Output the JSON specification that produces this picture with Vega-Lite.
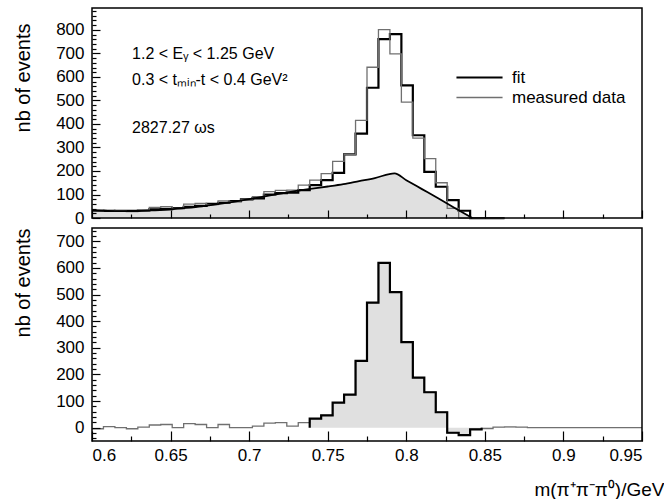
{
  "$schema": "https://vega.github.io/schema/vega-lite/v6.json",
  "padding": {"left": 13, "top": 7, "right": 0, "bottom": 0},
  "background": "white",
  "width": 550,
  "height": 433,
  "datasets": {
    "bins": [
      {"x": 0.6, "fit": 31, "measured data": 30, "diff": -4},
      {"x": 0.60729, "fit": 30, "measured data": 34, "diff": 4},
      {"x": 0.61458, "fit": 31, "measured data": 30, "diff": 0},
      {"x": 0.62188, "fit": 31, "measured data": 27, "diff": -4},
      {"x": 0.62917, "fit": 32, "measured data": 33, "diff": 2},
      {"x": 0.63646, "fit": 37, "measured data": 45, "diff": 10},
      {"x": 0.64375, "fit": 38, "measured data": 48, "diff": 12},
      {"x": 0.65104, "fit": 42, "measured data": 41, "diff": 0},
      {"x": 0.65833, "fit": 48, "measured data": 59, "diff": 15},
      {"x": 0.66563, "fit": 52, "measured data": 62, "diff": 12},
      {"x": 0.67292, "fit": 60, "measured data": 57, "diff": 0},
      {"x": 0.68021, "fit": 65, "measured data": 73, "diff": 12},
      {"x": 0.6875, "fit": 72, "measured data": 70, "diff": 0},
      {"x": 0.69479, "fit": 79, "measured data": 78, "diff": 0},
      {"x": 0.70208, "fit": 84, "measured data": 91, "diff": 6},
      {"x": 0.70938, "fit": 100, "measured data": 112, "diff": 17},
      {"x": 0.71667, "fit": 106, "measured data": 118, "diff": 19},
      {"x": 0.72396, "fit": 108, "measured data": 119, "diff": 6},
      {"x": 0.73125, "fit": 119, "measured data": 140, "diff": 19},
      {"x": 0.73854, "fit": 140, "measured data": 161, "diff": 34},
      {"x": 0.74583, "fit": 161, "measured data": 189, "diff": 46},
      {"x": 0.75313, "fit": 192, "measured data": 241, "diff": 94},
      {"x": 0.76042, "fit": 271, "measured data": 271, "diff": 124},
      {"x": 0.76771, "fit": 359, "measured data": 415, "diff": 251},
      {"x": 0.775, "fit": 554, "measured data": 641, "diff": 470},
      {"x": 0.78229, "fit": 761, "measured data": 801, "diff": 619},
      {"x": 0.78958, "fit": 782, "measured data": 698, "diff": 509},
      {"x": 0.79688, "fit": 564, "measured data": 493, "diff": 321},
      {"x": 0.80417, "fit": 352, "measured data": 340, "diff": 188},
      {"x": 0.81146, "fit": 196, "measured data": 253, "diff": 133},
      {"x": 0.81875, "fit": 133, "measured data": 150, "diff": 58},
      {"x": 0.82604, "fit": 76, "measured data": 41, "diff": -19},
      {"x": 0.83333, "fit": 31, "measured data": 0, "diff": -28},
      {"x": 0.84063, "fit": 0, "measured data": 0, "diff": -6},
      {"x": 0.84792, "fit": 0, "measured data": 0, "diff": -3},
      {"x": 0.85521, "fit": 0, "measured data": 0, "diff": 2},
      {"x": 0.8625, "fit": 0, "measured data": 0, "diff": 3},
      {"x": 0.86979, "fit": 0, "measured data": 0, "diff": 2},
      {"x": 0.87708, "fit": 0, "measured data": 0, "diff": 0},
      {"x": 0.88438, "fit": 0, "measured data": 0, "diff": 0},
      {"x": 0.89167, "fit": 0, "measured data": 0, "diff": 0},
      {"x": 0.89896, "fit": 0, "measured data": 0, "diff": 0},
      {"x": 0.90625, "fit": 0, "measured data": 0, "diff": 0},
      {"x": 0.91354, "fit": 0, "measured data": 0, "diff": 0},
      {"x": 0.92083, "fit": 0, "measured data": 0, "diff": 0},
      {"x": 0.92813, "fit": 0, "measured data": 0, "diff": 0},
      {"x": 0.93542, "fit": 0, "measured data": 0, "diff": 0},
      {"x": 0.94271, "fit": 0, "measured data": 0, "diff": 0},
      {"x": 0.95, "fit": 0, "measured data": 0, "diff": 0}
    ],
    "bg": [
      {"m": 0.6, "v": 33}, {"m": 0.61, "v": 30.5}, {"m": 0.62, "v": 29.5}, {"m": 0.63, "v": 30},
      {"m": 0.64, "v": 33}, {"m": 0.65, "v": 37}, {"m": 0.66, "v": 43}, {"m": 0.67, "v": 50},
      {"m": 0.68, "v": 59}, {"m": 0.69, "v": 69}, {"m": 0.7, "v": 80}, {"m": 0.71, "v": 92},
      {"m": 0.72, "v": 104}, {"m": 0.73, "v": 115}, {"m": 0.74, "v": 125}, {"m": 0.75, "v": 134},
      {"m": 0.76, "v": 144}, {"m": 0.77, "v": 157}, {"m": 0.78, "v": 170}, {"m": 0.7925, "v": 190},
      {"m": 0.8, "v": 161}, {"m": 0.81, "v": 123}, {"m": 0.82, "v": 85}, {"m": 0.83, "v": 46},
      {"m": 0.842, "v": 0}
    ],
    "sig": [
      {"k": 0, "x": 0.73854, "y": 0},
      {"k": 1, "x": 0.73854, "y": 34},
      {"k": 2, "x": 0.74583, "y": 46},
      {"k": 3, "x": 0.75313, "y": 94},
      {"k": 4, "x": 0.76042, "y": 124},
      {"k": 5, "x": 0.76771, "y": 251},
      {"k": 6, "x": 0.775, "y": 470},
      {"k": 7, "x": 0.78229, "y": 619},
      {"k": 8, "x": 0.78958, "y": 509},
      {"k": 9, "x": 0.79688, "y": 321},
      {"k": 10, "x": 0.80417, "y": 188},
      {"k": 11, "x": 0.81146, "y": 133},
      {"k": 12, "x": 0.81875, "y": 58},
      {"k": 13, "x": 0.82604, "y": -19},
      {"k": 14, "x": 0.83333, "y": -28},
      {"k": 15, "x": 0.84063, "y": -6},
      {"k": 16, "x": 0.84792, "y": -6},
      {"k": 17, "x": 0.84792, "y": 0}
    ],
    "notes": [
      {"x": 0.6255, "y": 699, "label": "1.2 < Eᵧ < 1.25 GeV"},
      {"x": 0.6255, "y": 585, "label": "0.3 < tₘᵢₙ-t < 0.4 GeV²"},
      {"x": 0.6255, "y": 381, "label": "2827.27 ωs"}
    ]
  },
  "resolve": {"scale": {"y": "independent"}, "axis": {"x": "independent", "y": "independent"}},
  "layer": [
    {
      "data": {"name": "bg"},
      "mark": {"type": "area", "interpolate": "monotone", "color": "#e0e0e0", "clip": true},
      "encoding": {
        "x": {"field": "m", "type": "quantitative", "scale": {"domain": [0.6, 0.95], "nice": false, "zero": false},
          "axis": {"orient": "bottom", "offset": -223, "tickSize": -8, "tickColor": "#000000", "tickWidth": 1.2, "zindex": 1,
            "values": [0.6, 0.65, 0.7, 0.75, 0.8, 0.85, 0.9, 0.95], "labelExpr": "''", "labelFontSize": 1, "title": null}},
        "y": {"field": "v", "type": "quantitative", "scale": {"domain": [-948, 893], "nice": false, "zero": false},
          "axis": {"orient": "left", "tickSize": -8, "tickColor": "#000000", "tickWidth": 1.2, "zindex": 1, "labelPadding": 16,
            "values": [0, 100, 200, 300, 400, 500, 600, 700, 800],
            "title": "nb of events", "titleAnchor": "end", "titleAlign": "right", "titleY": 15, "titlePadding": 22}},
        "y2": {"datum": 0}
      }
    },
    {
      "data": {"name": "bins"},
      "transform": [{"filter": "datum.x <= 0.8626"}, {"fold": ["fit", "measured data"]}],
      "mark": {"type": "line", "interpolate": "step-after", "clip": true},
      "encoding": {
        "x": {"field": "x", "type": "quantitative",
          "axis": {"orient": "bottom", "offset": -223, "tickSize": -4, "tickColor": "#000000", "tickWidth": 1.2, "zindex": 1,
            "values": [0.625, 0.675, 0.725, 0.775, 0.825, 0.875, 0.925], "labelExpr": "''", "labelFontSize": 1, "title": null}},
        "y": {"field": "value", "type": "quantitative", "scale": {"domain": [-948, 893], "nice": false, "zero": false},
          "axis": {"orient": "left", "tickSize": -4, "tickColor": "#000000", "tickWidth": 1.2, "zindex": 1,
            "values": [20, 40, 60, 80, 120, 140, 160, 180, 220, 240, 260, 280, 320, 340, 360, 380, 420, 440, 460, 480, 520, 540, 560, 580, 620, 640, 660, 680, 720, 740, 760, 780, 820, 840, 860, 880],
            "labelExpr": "''", "labelFontSize": 1, "title": null}},
        "color": {"field": "key", "type": "ordinal", "scale": {"domain": ["fit", "measured data"], "range": ["#000000", "#707070"]},
          "legend": {"title": null, "orient": "none", "legendX": 379, "legendY": 61, "symbolType": "M-5,0H5", "symbolSize": 85,
            "labelFontSize": 17, "labelFont": "Liberation Sans", "labelOffset": 24, "rowPadding": 2}},
        "strokeWidth": {"field": "key", "type": "ordinal", "scale": {"domain": ["fit", "measured data"], "range": [2.2, 1.3]},
          "legend": {"title": null, "orient": "none", "legendX": 379, "legendY": 61, "symbolType": "M-5,0H5", "symbolSize": 85,
            "labelFontSize": 17, "labelFont": "Liberation Sans", "labelOffset": 24, "rowPadding": 2}}
      }
    },
    {
      "data": {"name": "bg"},
      "mark": {"type": "line", "interpolate": "monotone", "color": "#000000", "strokeWidth": 1.8, "clip": true},
      "encoding": {
        "x": {"field": "m", "type": "quantitative", "axis": null},
        "y": {"field": "v", "type": "quantitative", "scale": {"domain": [-948, 893], "nice": false, "zero": false}, "axis": null}
      }
    },
    {
      "data": {"name": "notes"},
      "mark": {"type": "text", "align": "left", "baseline": "middle", "fontSize": 16, "font": "Liberation Sans", "color": "#000000"},
      "encoding": {
        "x": {"field": "x", "type": "quantitative", "axis": null},
        "y": {"field": "y", "type": "quantitative", "scale": {"domain": [-948, 893], "nice": false, "zero": false}, "axis": null},
        "text": {"field": "label"}
      }
    },
    {
      "data": {"values": [{}]},
      "mark": {"type": "rect", "filled": false, "stroke": "#000000", "strokeWidth": 1.5},
      "encoding": {
        "x": {"datum": 0.6, "type": "quantitative", "axis": null},
        "x2": {"datum": 0.95},
        "y": {"datum": 0, "type": "quantitative", "scale": {"domain": [-948, 893], "nice": false, "zero": false}, "axis": null},
        "y2": {"datum": 893}
      }
    },
    {
      "data": {"name": "bins"},
      "transform": [{"filter": "datum.x >= 0.7385 && datum.x <= 0.8771"}],
      "mark": {"type": "area", "interpolate": "step-after", "color": "#e0e0e0", "clip": true},
      "encoding": {
        "x": {"field": "x", "type": "quantitative",
          "axis": {"orient": "bottom", "tickSize": -10, "tickColor": "#000000", "tickWidth": 1.2, "zindex": 1, "labelPadding": 16,
            "values": [0.6, 0.65, 0.7, 0.75, 0.8, 0.85, 0.9, 0.95], "format": "~g",
            "title": "m(π⁺π⁻π⁰)/GeV", "titleFontSize": 19, "titleAnchor": "end", "titleAlign": "right", "titleX": 572, "titleY": 54, "titleBaseline": "alphabetic"}},
        "y": {"field": "diff", "type": "quantitative", "scale": {"domain": [-50, 1576], "nice": false, "zero": false},
          "axis": {"orient": "left", "tickSize": -8, "tickColor": "#000000", "tickWidth": 1.2, "zindex": 1, "labelPadding": 16,
            "values": [0, 100, 200, 300, 400, 500, 600, 700],
            "title": "nb of events", "titleAnchor": "end", "titleAlign": "right", "titleY": 220, "titlePadding": 22}},
        "y2": {"datum": 0}
      }
    },
    {
      "data": {"name": "bins"},
      "mark": {"type": "line", "interpolate": "step-after", "color": "#707070", "strokeWidth": 1.3, "clip": true},
      "encoding": {
        "x": {"field": "x", "type": "quantitative",
          "axis": {"orient": "bottom", "tickSize": -5, "tickColor": "#000000", "tickWidth": 1.2, "zindex": 1,
            "values": [0.625, 0.675, 0.725, 0.775, 0.825, 0.875, 0.925], "labelExpr": "''", "labelFontSize": 1, "title": null}},
        "y": {"field": "diff", "type": "quantitative", "scale": {"domain": [-50, 1576], "nice": false, "zero": false},
          "axis": {"orient": "left", "tickSize": -4, "tickColor": "#000000", "tickWidth": 1.2, "zindex": 1,
            "values": [-40, -20, 20, 40, 60, 80, 120, 140, 160, 180, 220, 240, 260, 280, 320, 340, 360, 380, 420, 440, 460, 480, 520, 540, 560, 580, 620, 640, 660, 680, 720, 740],
            "labelExpr": "''", "labelFontSize": 1, "title": null}}
      }
    },
    {
      "data": {"name": "sig"},
      "mark": {"type": "line", "interpolate": "step-after", "color": "#000000", "strokeWidth": 2.2, "clip": true},
      "encoding": {
        "x": {"field": "x", "type": "quantitative", "axis": null},
        "y": {"field": "y", "type": "quantitative", "scale": {"domain": [-50, 1576], "nice": false, "zero": false}, "axis": null},
        "order": {"field": "k", "type": "quantitative"}
      }
    },
    {
      "data": {"values": [{}]},
      "mark": {"type": "rect", "filled": false, "stroke": "#000000", "strokeWidth": 1.5},
      "encoding": {
        "x": {"datum": 0.6, "type": "quantitative", "axis": null},
        "x2": {"datum": 0.95},
        "y": {"datum": -50, "type": "quantitative", "scale": {"domain": [-50, 1576], "nice": false, "zero": false}, "axis": null},
        "y2": {"datum": 750}
      }
    }
  ],
  "config": {
    "font": "Liberation Sans",
    "view": {"stroke": null},
    "axis": {
      "labelFont": "Liberation Sans", "labelFontSize": 17, "labelColor": "#000000",
      "titleFont": "Liberation Sans", "titleFontSize": 20, "titleFontWeight": "normal", "titleColor": "#000000",
      "domain": false, "grid": false
    },
    "legend": {"padding": 0}
  }
}
